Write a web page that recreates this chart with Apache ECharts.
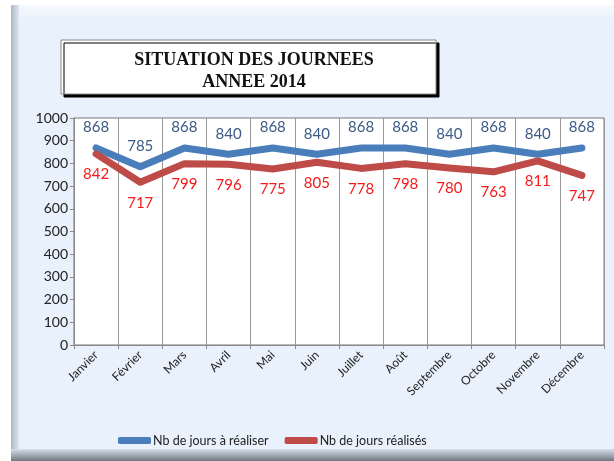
<!DOCTYPE html>
<html>
<head>
<meta charset="utf-8">
<script src="https://cdn.jsdelivr.net/npm/echarts@6/dist/echarts.min.js"></script>
<style>
  html, body { margin: 0; padding: 0; background: #fff; }
  #chart { width: 614px; height: 461px; }
</style>
</head>
<body>
<div id="chart"></div>
<script>
const months = ['Janvier', 'Février', 'Mars', 'Avril', 'Mai', 'Juin', 'Juillet', 'Août', 'Septembre', 'Octobre', 'Novembre', 'Décembre']
const aRealiser = [868, 785, 868, 840, 868, 840, 868, 868, 840, 868, 840, 868]
const realises = [842, 717, 799, 796, 775, 805, 778, 798, 780, 763, 811, 747]
const titleLines = ['SITUATION DES JOURNEES', 'ANNEE 2014']

const chart = echarts.init(document.getElementById('chart'))

const option = {
  animation: false,
  textStyle: { fontFamily: 'Lato, "Noto Sans", sans-serif' },
  graphic: [
    // outer frame
    { type: 'rect', z: -10, shape: { x: 11, y: 5, width: 603, height: 451 }, style: { fill: '#e8f1fc' } },
    {
      type: 'rect', z: -9, shape: { x: 11, y: 5, width: 603, height: 12 },
      style: { fill: new echarts.graphic.LinearGradient(0, 0, 0, 1, [{ offset: 0, color: '#f6f9fd' }, { offset: 1, color: '#eef4fc' }]) }
    },
    {
      type: 'rect', z: -8, shape: { x: 11, y: 5, width: 8, height: 451 },
      style: { fill: new echarts.graphic.LinearGradient(0, 0, 1, 0, [{ offset: 0, color: '#a9b7c6' }, { offset: 1, color: '#dfe8f2' }]) }
    },
    {
      type: 'rect', z: -8, shape: { x: 11, y: 449, width: 603, height: 12 },
      style: { fill: new echarts.graphic.LinearGradient(0, 0, 0, 1, [{ offset: 0, color: '#d7e0ea' }, { offset: 1, color: '#6f7880' }]) }
    },
    // title box
    {
      type: 'rect', z: -5, shape: { x: 61, y: 40, width: 375, height: 54 },
      style: { fill: '#fff', stroke: '#888', lineWidth: 1, shadowColor: '#000', shadowOffsetX: 3, shadowOffsetY: 3, shadowBlur: 0 }
    }
  ],
  title: {
    text: titleLines.join('\n'),
    left: 249,
    top: 44,
    textAlign: 'center',
    textStyle: { fontFamily: '"Liberation Serif", "DejaVu Serif", serif', fontSize: 18, fontWeight: 'bold', color: '#111', lineHeight: 22 }
  },
  grid: {
    left: 74, right: 10, top: 118, bottom: 116,
    show: true, backgroundColor: '#fff', borderColor: '#777', borderWidth: 1
  },
  legend: {
    left: 113, top: 429,
    itemWidth: 33, itemHeight: 7, itemGap: 16,
    icon: 'roundRect',
    textStyle: { fontSize: 12.5, color: '#222', padding: [0, 0, 0, -3] },
    data: ['Nb de jours à réaliser', 'Nb de jours réalisés']
  },
  xAxis: {
    type: 'category',
    data: months,
    boundaryGap: true,
    axisLine: { lineStyle: { color: '#888' } },
    axisTick: { show: true, length: 4, lineStyle: { color: '#888' } },
    splitLine: { show: true, lineStyle: { color: '#999', width: 1 } },
    axisLabel: { rotate: 45, fontSize: 12, color: '#222', margin: 8, interval: 0 }
  },
  yAxis: {
    type: 'value',
    min: 0, max: 1000, interval: 100,
    axisLine: { show: true, lineStyle: { color: '#888' } },
    axisTick: { show: true, length: 4, lineStyle: { color: '#888' } },
    splitLine: { show: false },
    axisLabel: { fontSize: 14, color: '#222', margin: 6, formatter: v => String(v) }
  },
  series: [
    {
      name: 'Nb de jours à réaliser',
      type: 'line',
      data: aRealiser,
      symbol: 'circle',
      symbolSize: 0.1,
      color: '#4a7ebb',
      lineStyle: { width: 7, color: '#4a7ebb', cap: 'round', join: 'round' },
      label: { show: true, position: 'top', distance: 13, fontSize: 15, color: '#3b5a86' },
      z: 3
    },
    {
      name: 'Nb de jours réalisés',
      type: 'line',
      data: realises,
      symbol: 'circle',
      symbolSize: 0.1,
      color: '#be4b48',
      lineStyle: { width: 7, color: '#be4b48', cap: 'round', join: 'round' },
      label: { show: true, position: 'bottom', distance: 13, fontSize: 15, color: '#f51a1a' },
      z: 4
    }
  ]
}

chart.setOption(option)
</script>
</body>
</html>
